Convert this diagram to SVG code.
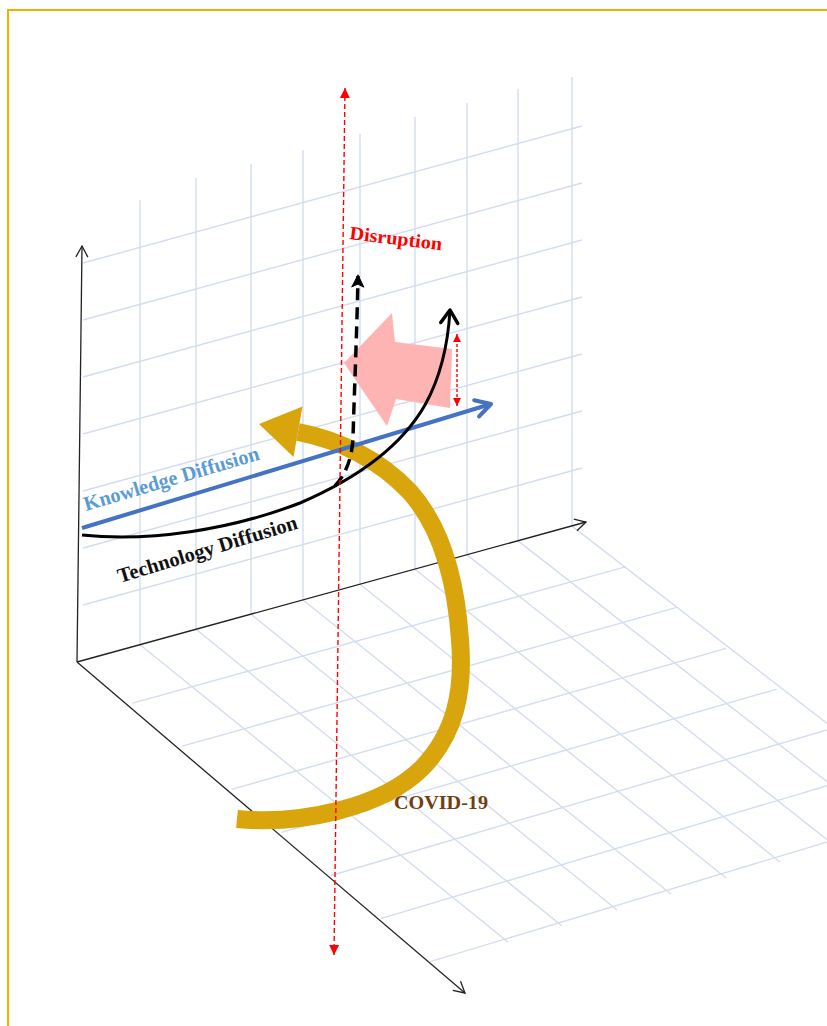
<svg xmlns="http://www.w3.org/2000/svg" width="827" height="1026" viewBox="0 0 827 1026">
<style>
.grid{stroke:#D3DDF0;stroke-width:1.4;fill:none}
.axis{stroke:#222;stroke-width:1.3;fill:none}
.lbl{font-family:"Liberation Serif","Times New Roman",serif;font-weight:bold}
</style>
<defs>
<marker id="ax" viewBox="-13 -8 15 16" refX="0" refY="0" markerWidth="15" markerHeight="16" markerUnits="userSpaceOnUse" orient="auto"><path d="M-11,-6 L0,0 L-11,6" fill="none" stroke="#222" stroke-width="1.3"/></marker>
<marker id="rh" viewBox="-11 -6 12 12" refX="0" refY="0" markerWidth="12" markerHeight="12" markerUnits="userSpaceOnUse" orient="auto-start-reverse"><path d="M0,0 L-10,-5 L-10,5 Z" fill="#FF0000"/></marker>
<marker id="rh2" viewBox="-9 -5 10 10" refX="0" refY="0" markerWidth="10" markerHeight="10" markerUnits="userSpaceOnUse" orient="auto-start-reverse"><path d="M0,0 L-8,-4 L-8,4 Z" fill="#FF0000"/></marker>
<marker id="bh" viewBox="-20 -12 24 24" refX="0" refY="0" markerWidth="24" markerHeight="24" markerUnits="userSpaceOnUse" orient="auto"><path d="M-15,-8.5 L0,0 L-15,8.5" fill="none" stroke="#4472C4" stroke-width="4" stroke-linecap="round" stroke-linejoin="round"/></marker>
<marker id="kh" viewBox="-18 -12 22 24" refX="0" refY="0" markerWidth="22" markerHeight="24" markerUnits="userSpaceOnUse" orient="auto"><path d="M-13,-8.5 L0,0 L-13,8.5" fill="none" stroke="#000" stroke-width="3.5" stroke-linecap="round" stroke-linejoin="round"/></marker>
<marker id="dh" viewBox="-14 -8 16 16" refX="0" refY="0" markerWidth="16" markerHeight="16" markerUnits="userSpaceOnUse" orient="auto"><path d="M1,0 L-11,-6 L-8,0 L-11,6 Z" fill="#000" stroke="#000" stroke-width="1" stroke-linejoin="round"/></marker>
</defs>

<path id="frame" d="M8,1026 V10 H827" fill="none" stroke="#EFB000" stroke-width="2"/>

<g id="backwall" class="grid">
<path d="M140,200 V644.7 M196,178 V629.3 M251,164 V614.2 M303,150 V600 M360,134 V584.3 M415,117 V569.2 M467,103 V554.9 M518,89 V540.9 M572,77 V526.1"/>
<path d="M83,263 L582,126 M83,320 L582,183 M83,377 L582,240 M83,434 L582,297 M83,491 L582,354 M83,548 L582,411 M83,605 L582,468"/>
</g>

<g id="floor" class="grid">
<path d="M140,644.7 L508,942 M196,629.3 L562,926 M251,614.2 L617,910 M303,600 L671,894 M360,584.3 L726,878 M415,569.2 L780,862 M467,554.9 L835,846 M518,540.9 L889,830 M572,526.1 L944,814"/>
<path d="M132.6,703.1 L625.4,566.8 M182.2,746.2 L675.8,607.6 M231.8,789.3 L726.2,648.4 M281.4,832.4 L776.6,689.2 M331,875.5 L827,730 M380.6,918.6 L877.4,770.8 M430.2,961.7 L927.8,811.6"/>
</g>

<g id="axes" class="axis">
<path d="M77,662 L82,246" marker-end="url(#ax)"/>
<path d="M77,662 L586,522" marker-end="url(#ax)"/>
<path d="M77,662 L465,993" marker-end="url(#ax)"/>
</g>

<g id="covid-arrow">
<path d="M237,819 C300,825 382,808 422,768 C456,733 464,690 460,640 C456,580 442,528 410,492 C380,460 340,440 298,432" fill="none" stroke="#D8A50C" stroke-width="18"/>
<polygon points="302.5,406.5 259,424 293.5,457" fill="#D8A50C"/>
</g>

<g id="pink-arrow">
<polygon points="344,363 392,313 395,342 452,349 450,408 396,399 387,426" fill="#FFB4B4"/>
</g>

<g id="connectors">
<path id="knowledge-line" d="M82,528 L491,404" fill="none" stroke="#4472C4" stroke-width="4" marker-end="url(#bh)"/>
<path id="tech-curve" d="M82,535 C150,542 230,530 300,503 C365,475 405,440 425,405 C440,378 448,345 450,310" fill="none" stroke="#000" stroke-width="3" marker-end="url(#kh)"/>
<path id="dashed-black" d="M335,486 C346,474 352,458 353,438 C354,400 357,330 358,276" fill="none" stroke="#000" stroke-width="3.5" stroke-dasharray="12,7" marker-end="url(#dh)"/>
<path id="disruption-axis" d="M345,88 L334,955" fill="none" stroke="#FF0000" stroke-width="1.4" stroke-dasharray="5,3" marker-start="url(#rh)" marker-end="url(#rh)"/>
<path id="gap-arrow" d="M457,334 L457,406" fill="none" stroke="#FF0000" stroke-width="1.4" stroke-dasharray="3,2" marker-start="url(#rh2)" marker-end="url(#rh2)"/>
</g>

<g id="labels" class="lbl">
<text x="349" y="239" transform="rotate(7 349 239)" font-size="19" fill="#FF0000" textLength="93" lengthAdjust="spacingAndGlyphs">Disruption</text>
<text x="86" y="511" transform="rotate(-16.5 86 511)" font-size="20.5" fill="#5B9BD5" textLength="182" lengthAdjust="spacingAndGlyphs">Knowledge Diffusion</text>
<text x="120" y="583" transform="rotate(-17 120 583)" font-size="20.5" fill="#111" textLength="187" lengthAdjust="spacingAndGlyphs">Technology Diffusion</text>
<text x="394" y="809" font-size="19.5" fill="#6F400F" textLength="94" lengthAdjust="spacingAndGlyphs">COVID-19</text>
</g>
</svg>
